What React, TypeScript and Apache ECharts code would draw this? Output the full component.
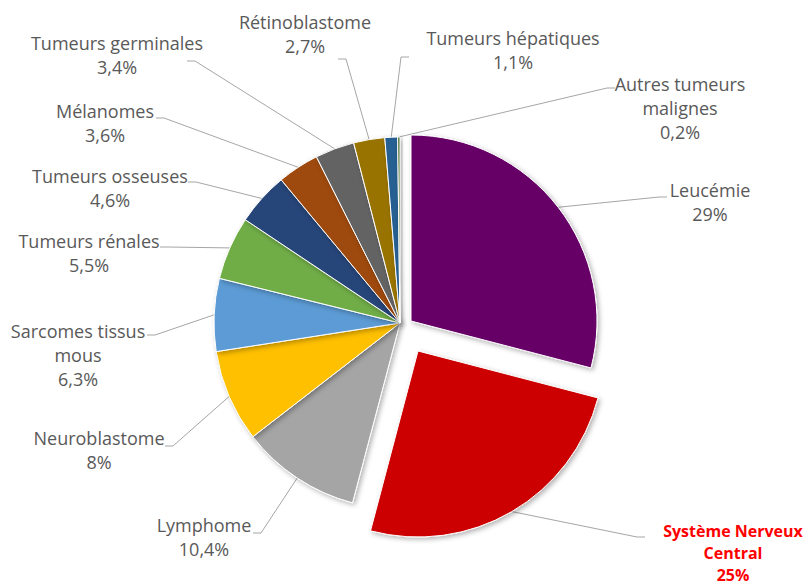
import React, { useEffect, useRef } from "react";
import * as echarts from "echarts";

// ---- data ----
const categories = [
  "Leucémie",
  "Système Nerveux\nCentral",
  "Lymphome",
  "Neuroblastome",
  "Sarcomes tissus\nmous",
  "Tumeurs rénales",
  "Tumeurs osseuses",
  "Mélanomes",
  "Tumeurs germinales",
  "Rétinoblastome",
  "Tumeurs hépatiques",
  "Autres tumeurs\nmalignes",
];
const percentages = [29, 25, 10.4, 8, 6.3, 5.5, 4.6, 3.6, 3.4, 2.7, 1.1, 0.2];

// ---- styles / layout ----
const sliceColors = [
  "#660066", "#CC0000", "#A5A5A5", "#FFC000", "#5B9BD5", "#70AD47",
  "#264478", "#9E480E", "#636363", "#997300", "#255E91", "#43682B",
];
const LABEL_CENTER = [
  [710, 202], [733, 553], [204, 537], [99, 450], [78, 355], [89, 253],
  [110, 188], [105, 123], [117, 55], [305, 34], [513, 50], [680, 108],
];
const LABEL_ATTACH = [
  [-43, -5], [-88, -16], [49, -4], [66, -4], [69, -20], [71, -6],
  [78, -6], [51, -5], [70, 6], [33, 25], [-104, 7], [-65, -20],
];
const RADIUS = 186;
const GROUPS = [
  { center: [400, 323], items: [2, 3, 4, 5, 6, 7, 8, 9, 10, 11] },
  { center: [411, 321], items: [0] },
  { center: [418, 351], items: [1] },
];
const FONT = "'Open Sans', 'Noto Sans', sans-serif";

function fmt(i: number) {
  return `${categories[i]}\n${String(percentages[i]).replace(".", ",")}%`;
}

function fallbackAnchor(i: number, center: number[]) {
  const total = percentages.reduce((a, b) => a + b, 0);
  let start = 0;
  for (let j = 0; j < i; j++) start += percentages[j];
  const mid = ((start + percentages[i] / 2) / total) * Math.PI * 2;
  return [center[0] + RADIUS * Math.sin(mid), center[1] - RADIUS * Math.cos(mid)];
}

function buildSeries(group: { center: number[]; items: number[] }, idx: number) {
  return {
    type: "pie",
    id: "pie" + idx,
    center: group.center,
    radius: RADIUS,
    startAngle: 90,
    clockwise: true,
    silent: true,
    avoidLabelOverlap: false,
    emphasis: { disabled: true },
    label: {
      show: true,
      position: "outside",
      fontFamily: FONT,
      fontSize: 18,
      lineHeight: 24,
      color: "#595959",
      align: "center",
      formatter: (p: any) => fmt(p.dataIndex),
    },
    labelLine: {
      show: true,
      length: 10,
      length2: 10,
      smooth: false,
      lineStyle: { color: "#A6A6A6", width: 1 },
    },
    labelLayout: (p: any) => {
      const i = p.dataIndex;
      if (!group.items.includes(i)) return {};
      const [lx, ly] = LABEL_CENTER[i];
      const [adx, ady] = LABEL_ATTACH[i];
      const ax = lx + adx;
      const ay = ly + ady;
      const anchor =
        p.labelLinePoints && p.labelLinePoints[0]
          ? p.labelLinePoints[0]
          : fallbackAnchor(i, group.center);
      const dir = anchor[0] > ax ? 1 : -1;
      return {
        x: lx,
        y: ly,
        align: "center",
        verticalAlign: "middle",
        labelLinePoints: [anchor, [ax + dir * 8, ay], [ax, ay]],
      };
    },
    data: categories.map((name, i) => {
      const visible = group.items.includes(i);
      if (!visible) {
        return {
          name,
          value: percentages[i],
          itemStyle: { color: "transparent", borderWidth: 0, shadowBlur: 0, shadowColor: "transparent" },
          label: { show: false },
          labelLine: { show: false },
        };
      }
      const item: any = {
        name,
        value: percentages[i],
        itemStyle: {
          color: sliceColors[i],
          borderColor: "#FFFFFF",
          borderWidth: 1,
          shadowBlur: 5,
          shadowOffsetX: 2,
          shadowOffsetY: 2,
          shadowColor: "rgba(0,0,0,0.3)",
        },
      };
      if (i === 1) {
        item.label = { color: "#FF0000", fontWeight: "bold", fontSize: 16, lineHeight: 22 };
      }
      return item;
    }),
  };
}

export default function App() {
  const ref = useRef<HTMLDivElement>(null);
  useEffect(() => {
    if (!ref.current) return;
    const chart = echarts.init(ref.current, undefined, { renderer: "svg" });
    chart.setOption({
      animation: false,
      backgroundColor: "#FFFFFF",
      series: GROUPS.map((g, k) => buildSeries(g, k)),
    } as any);
    return () => chart.dispose();
  }, []);
  return (
    <div
      ref={ref}
      style={{ position: "fixed", left: 0, top: 0, width: 811, height: 588 }}
    />
  );
}
